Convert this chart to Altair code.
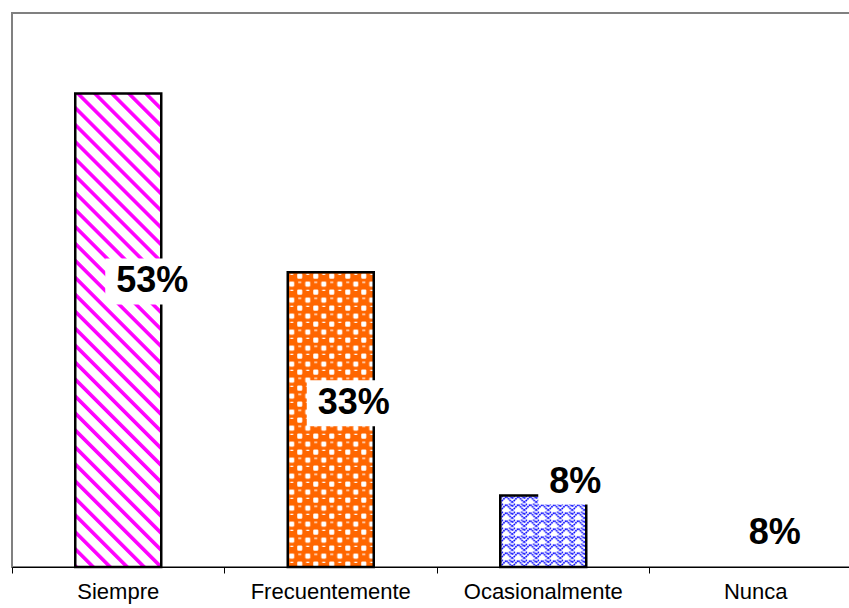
import base64

import altair as alt
import pandas as pd

# Survey answers and their shares
categorias = ["Siempre", "Frecuentemente", "Ocasionalmente", "Nunca"]
porcentajes = [0.53, 0.33, 0.08, 0.08]

df = pd.DataFrame({"categoria": categorias, "valor": porcentajes})

FONT = "Liberation Sans"
BAR_BAND = 0.4047  # bar width as a fraction of each category slot


def svg_pattern(tile_w, tile_h, content, transform=""):
    """Return a data URI of an SVG that tiles the given pattern over its whole box."""
    svg = (
        '<svg xmlns="http://www.w3.org/2000/svg" width="100%" height="100%">'
        f'<defs><pattern id="p" width="{tile_w}" height="{tile_h}" '
        f'patternUnits="userSpaceOnUse"{transform}>{content}</pattern></defs>'
        '<rect width="100%" height="100%" fill="url(#p)"/></svg>'
    )
    return "data:image/svg+xml;base64," + base64.b64encode(svg.encode()).decode()


# Fill pattern of each bar (the last answer has no fill)
PATTERNS = {
    "Siempre": svg_pattern(
        12, 12,
        '<rect width="12" height="12" fill="#ffffff"/>'
        '<rect width="3.6" height="12" fill="#ff00ff"/>',
        ' patternTransform="rotate(-45)"',
    ),
    "Frecuentemente": svg_pattern(
        16, 16,
        '<rect width="16" height="16" fill="#ff6600"/>'
        '<rect x="9.5" y="1.5" width="5" height="5" rx="1" fill="#ffffff"/>'
        '<rect x="1.5" y="9.5" width="5" height="5" rx="1" fill="#ffffff"/>'
        '<rect x="2.5" y="1.6" width="3" height="1.2" fill="#ffffff"/>'
        '<rect x="10.5" y="9.6" width="3" height="1.2" fill="#ffffff"/>',
    ),
    "Ocasionalmente": svg_pattern(
        12, 8,
        '<rect width="12" height="8" fill="#ffffff"/>'
        '<path d="M0,7 L6,1 L12,7 M0,3 L3,0 M9,0 L12,3" fill="none" stroke="#0000ff" '
        'stroke-width="1.6" stroke-dasharray="1.6 0.6"/>',
    ),
}

# Pixel nudge of each value label from the top of its bar
LABEL_NUDGE = {
    "Siempre": (34, 188),
    "Frecuentemente": (23, 131),
    "Ocasionalmente": (32, -14),
    "Nunca": (19, 37.5),
}
BOX_W = {2: 74, 3: 94}
BOX_H = 46

x_enc = alt.X(
    "categoria:N",
    sort=categorias,
    scale=alt.Scale(paddingInner=0, paddingOuter=0),
    axis=alt.Axis(
        title=None,
        labelAngle=0,
        bandPosition=0,
        labelFont=FONT,
        labelFontSize=22,
        labelColor="black",
        labelPadding=8,
        tickColor="black",
        tickSize=6,
        domainColor="black",
        domainWidth=1.2,
        grid=False,
    ),
)
y_enc = alt.Y("valor:Q", scale=alt.Scale(domain=[0, 0.62], nice=False), axis=None)

base = alt.Chart(df)

fills = [
    base.transform_filter(alt.datum.categoria == cat)
    .mark_image(aspect=False, width=alt.RelativeBandSize(BAR_BAND))
    .encode(x=x_enc, y=y_enc, y2=alt.Y2Datum(0), url=alt.value(uri))
    for cat, uri in PATTERNS.items()
]

outline = base.mark_bar(
    fillOpacity=0, strokeWidth=2.5, width=alt.RelativeBandSize(BAR_BAND)
).encode(
    x=x_enc,
    y=y_enc,
    stroke=alt.when("datum.categoria === 'Nunca'")
    .then(alt.value("transparent"))
    .otherwise(alt.value("black")),
)

boxes, texts = [], []
for cat, val in zip(categorias, porcentajes):
    dx, dy = LABEL_NUDGE[cat]
    w = BOX_W[len(f"{round(val * 100)}%")]
    r = BOX_H / w
    sub = base.transform_filter(alt.datum.categoria == cat)
    boxes.append(
        sub.mark_point(
            shape=f"M-1,{-r:.4f}H1V{r:.4f}H-1Z",
            size=w * w,
            filled=True,
            color="white",
            opacity=1,
            strokeWidth=0,
            xOffset=dx,
            yOffset=dy,
        ).encode(x=x_enc, y=y_enc)
    )
    texts.append(
        sub.mark_text(
            font=FONT,
            fontSize=36,
            fontWeight="bold",
            color="black",
            xOffset=dx,
            yOffset=dy,
        ).encode(x=x_enc, y=y_enc, text=alt.Text("valor:Q", format=".0%"))
    )

chart = (
    alt.layer(*fills, outline, *boxes, *texts)
    .properties(
        width=850,
        height=554,
        padding={"left": 12, "top": 13, "right": -13, "bottom": 41},
        autosize=alt.AutoSizeParams(type="none"),
        background="white",
    )
    .configure_view(stroke="#808080", strokeWidth=2)
)

chart.save("out.html", embed_options={"renderer": "svg", "actions": False})
